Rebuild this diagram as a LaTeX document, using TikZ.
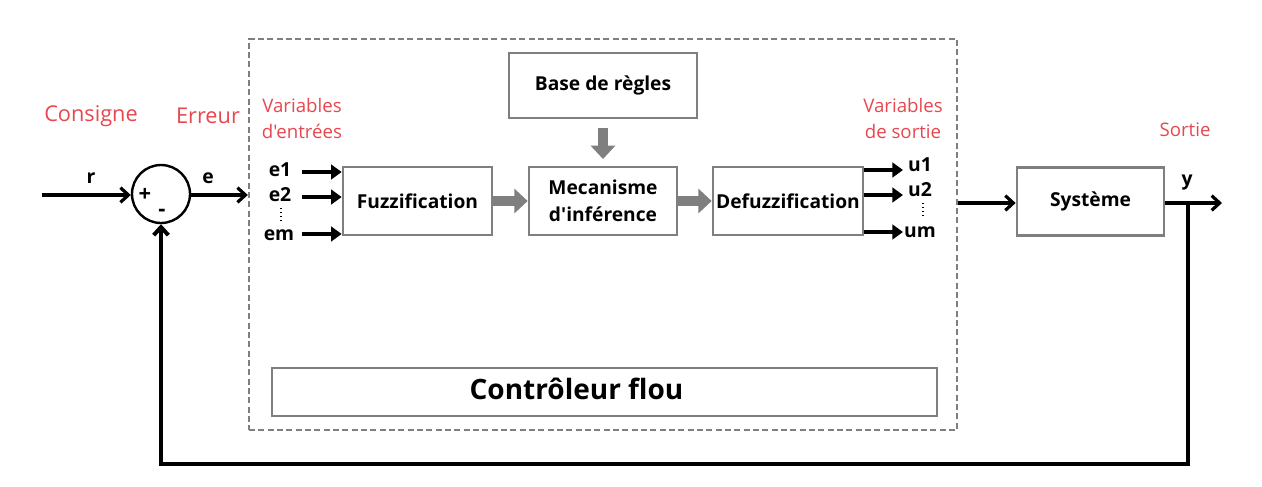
\documentclass[tikz,border=0pt]{standalone}
\usepackage{fontspec}
\setmainfont{Open Sans}[Ligatures=TeXOff]
\usetikzlibrary{arrows.meta}
\definecolor{lbl}{HTML}{E8474F}
\definecolor{boxgray}{HTML}{7F7F7F}
\begin{document}
\begin{tikzpicture}[x=0.75pt,y=-0.75pt,
 blk/.style={draw=boxgray, line width=2pt, fill=white, font=\bfseries\fontsize{14.4}{20}\selectfont, align=center, inner sep=0pt},
 redlbl/.style={text=lbl, font=\fontsize{14}{19.5}\selectfont, align=center},
 redbig/.style={text=lbl, font=\fontsize{16.3}{19}\selectfont},
 sig/.style={font=\bfseries\fontsize{14.5}{16}\selectfont, inner sep=0pt},
 inarr/.style={line width=3.6pt, -{Triangle[length=8pt,width=11pt]}},
 grayarr/.style={draw=boxgray, line width=7pt, -{Triangle[length=10pt,width=18pt]}},
 thinarr/.style={line width=2.4pt, -{Straight Barb[length=6pt,width=11pt]}}
]
\useasboundingbox[fill=white] (0,0) rectangle (1262,486);
% dashed controller frame
\node[draw=boxgray, dash pattern=on 4.5pt off 2.5pt, line width=1.8pt, minimum width=531pt, minimum height=293.25pt, inner sep=0pt] (ctrl) at (603,234.5) {};
% blocks
\node[blk, minimum width=141pt, minimum height=48.75pt] (base) at (603,85.5) {Base de règles};
\node[blk, minimum width=111.75pt, minimum height=51pt] (fuzz) at (417.5,201) {Fuzzification};
\node[blk, minimum width=111pt, minimum height=51pt] (mec) at (603,201) {Mecanisme\\d'inférence};
\node[blk, minimum width=112.5pt, minimum height=51pt] (defuzz) at (788,201) {Defuzzification};
\node[blk, minimum width=110.25pt, minimum height=51pt] (sys) at (1090.5,201.5) {Système};
\node[blk, minimum width=498.75pt, minimum height=36pt] (cf) at (604.5,392) {};
\node[font=\bfseries\fontsize{21}{24}\selectfont, inner sep=0pt] (cft) at (576.5,389) {Contrôleur flou};
% sum
\node[draw, line width=1.8pt, circle, minimum size=43.5pt, inner sep=0pt] (sum) at (161,194) {};
\node[sig, font=\bfseries\fontsize{16.5}{18}\selectfont] (plus) at (145,195) {+};
\node[sig, font=\bfseries\fontsize{16.5}{18}\selectfont] (minus) at (162,213) {-};
% gray arrows
\draw[grayarr] (fuzz.east) -- (mec.west);
\draw[grayarr] (mec.east) -- (defuzz.west);
\draw[grayarr, shorten <=6.5pt, shorten >=5pt] (base.south) -- (mec.north);
% inputs
\coordinate (i1) at (302,172);
\coordinate (i2) at (302,197);
\coordinate (i3) at (302,234);
\draw[inarr] (i1) -- (i1 -| fuzz.west);
\draw[inarr] (i2) -- (i2 -| fuzz.west);
\draw[inarr] (i3) -- (i3 -| fuzz.west);
\node[sig] (e1) at (280,170) {e1};
\node[sig] (e2) at (280,195) {e2};
\node[sig] (em) at (279,235) {em};
\draw[line width=1pt, dotted] (281,208) -- (281,222);
% outputs
\coordinate (o1) at (903,170);
\coordinate (o2) at (903,195);
\coordinate (o3) at (903,232);
\draw[inarr] (o1 -| defuzz.east) -- (o1);
\draw[inarr] (o2 -| defuzz.east) -- (o2);
\draw[inarr] (o3 -| defuzz.east) -- (o3);
\node[sig] (u1) at (920,165) {u1};
\node[sig] (u2) at (920,190) {u2};
\node[sig] (um) at (920,232) {um};
\draw[line width=1pt, dotted] (923,203) -- (923,217);
% loop signals
\coordinate (rin) at (42,195);
\draw[thinarr] (rin) -- (sum.west |- rin);
\draw[thinarr] (sum.east |- rin) -- (ctrl.west |- rin);
\draw[thinarr] (ctrl.east |- 0,203) -- (sys.west |- 0,203);
\coordinate (yout) at (1222,203);
\draw[thinarr] (sys.east |- yout) -- (yout);
\coordinate (tap) at (1188,203);
\coordinate (fb) at (1188,464);
\draw[line width=3pt, -{Straight Barb[length=6pt,width=11pt]}] (tap) -- (fb) -| (sum.south);
\node[sig] (r) at (91,178) {r};
\node[sig] (e) at (208,178) {e};
\node[sig] (y) at (1187,183) {y};
% red labels
\node[redbig] (consigne) at (91,116) {Consigne};
\node[redbig] (erreur) at (208,116) {Erreur};
\node[redlbl] (ve) at (302,118) {Variables\\d'entrées};
\node[redlbl] (vs) at (903,118) {Variables\\de sortie};
\node[redlbl] (sortie) at (1185,130) {Sortie};
\end{tikzpicture}
\end{document}
